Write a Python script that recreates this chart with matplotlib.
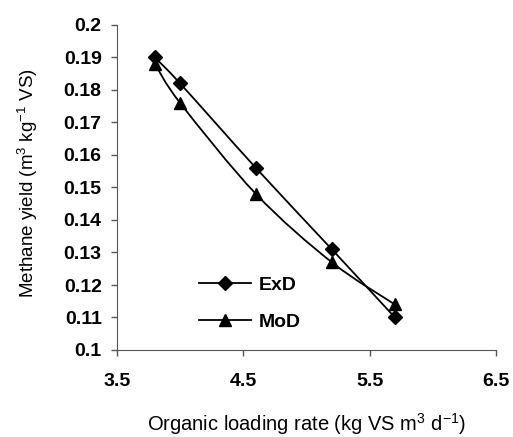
import numpy as np
import matplotlib.pyplot as plt
from matplotlib.path import Path
from matplotlib.patches import PathPatch
from matplotlib.lines import Line2D

plt.rcParams['font.family'] = ['Liberation Sans', 'DejaVu Sans']
plt.rcParams['mathtext.fontset'] = 'custom'
plt.rcParams['mathtext.rm'] = 'Liberation Sans'
plt.rcParams['mathtext.it'] = 'Liberation Sans'

# datos
carga = [3.8, 4.0, 4.6, 5.2, 5.7]
exd = [0.190, 0.182, 0.156, 0.131, 0.110]
mod = [0.188, 0.176, 0.148, 0.127, 0.114]
xticks = [3.5, 4.5, 5.5, 6.5]
yticks = [0.1, 0.11, 0.12, 0.13, 0.14, 0.15, 0.16, 0.17, 0.18, 0.19, 0.2]


def linea_suave(ax, x, y):
    """Curva suavizada tipo Excel (Bezier por Catmull-Rom) en coordenadas de datos."""
    x = np.asarray(x, float)
    y = np.asarray(y, float)
    verts = [(x[0], y[0])]
    codes = [Path.MOVETO]
    n = len(x)
    for i in range(n - 1):
        x0, y0 = (x[i - 1], y[i - 1]) if i > 0 else (x[i], y[i])
        x3, y3 = (x[i + 2], y[i + 2]) if i + 2 < n else (x[i + 1], y[i + 1])
        c1 = (x[i] + (x[i + 1] - x0) / 6, y[i] + (y[i + 1] - y0) / 6)
        c2 = (x[i + 1] - (x3 - x[i]) / 6, y[i + 1] - (y3 - y[i]) / 6)
        verts += [c1, c2, (x[i + 1], y[i + 1])]
        codes += [Path.CURVE4] * 3
    ax.add_patch(PathPatch(Path(verts, codes), fill=False, edgecolor='black', lw=1.3))


fig = plt.figure(figsize=(5.13, 4.37), dpi=100)
ax = fig.add_axes([117 / 513, 1 - 350 / 437, (496 - 117) / 513, (350 - 25) / 437])

linea_suave(ax, carga, exd)
linea_suave(ax, carga, mod)
ax.plot(carga, exd, 'D', color='black', ms=7.5, ls='none')
ax.plot(carga, mod, '^', color='black', ms=9, ls='none')

ax.set_xlim(3.5, 6.5)
ax.set_ylim(0.1, 0.2)
ax.set_xticks(xticks)
ax.set_xticklabels(['3.5', '4.5', '5.5', '6.5'], fontsize=14, fontweight='bold')
ax.set_yticks(yticks)
ax.set_yticklabels(['0.1', '0.11', '0.12', '0.13', '0.14', '0.15', '0.16', '0.17', '0.18', '0.19', '0.2'],
                   fontsize=14, fontweight='bold')
ax.tick_params(direction='out', length=4.5, width=1, color='#555555', pad=6.5)
ax.tick_params(axis='x', pad=12)
for s in ['top', 'right']:
    ax.spines[s].set_visible(False)
for s in ['left', 'bottom']:
    ax.spines[s].set_color('#555555')

ax.set_xlabel('Organic loading rate (kg VS m$^{3}$ d$^{-1}$)', fontsize=14.5)
ax.xaxis.label.set_verticalalignment('baseline')
ax.xaxis.set_label_coords(0.5, -0.25)
ax.set_ylabel('Methane yield (m$^{3}$ kg$^{-1}$ VS)', fontsize=13.5)
ax.yaxis.label.set_verticalalignment('center')
ax.yaxis.set_label_coords(-0.235, 0.514)

h1 = Line2D([], [], color='black', marker='D', ms=7.5, lw=1.3)
h2 = Line2D([], [], color='black', marker='^', ms=9, lw=1.3)
ax.legend([h1, h2], ['ExD', 'MoD'], loc='upper left', bbox_to_anchor=(0.17, 0.28),
          frameon=False, prop={'weight': 'bold', 'size': 14}, handlelength=2.7,
          handletextpad=0.4, labelspacing=1.0)

fig.savefig('out.png', dpi=100)
